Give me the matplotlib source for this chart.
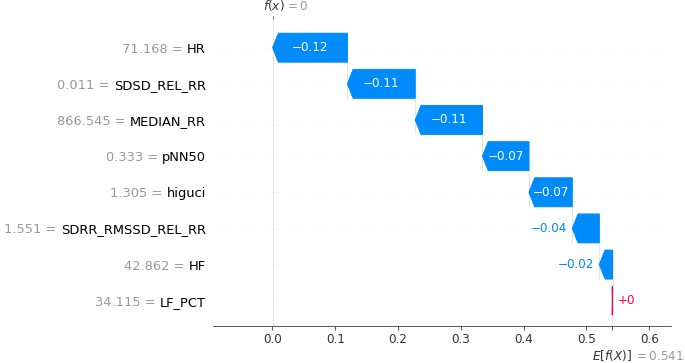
import numpy as np
import matplotlib
matplotlib.use("Agg")
import matplotlib.pyplot as plt
from matplotlib import transforms

# waterfall data, top row first
features = ["HR", "SDSD_REL_RR", "MEDIAN_RR", "pNN50", "higuci",
            "SDRR_RMSSD_REL_RR", "HF", "LF_PCT"]
feature_values = ["71.168", "0.011", "866.545", "0.333", "1.305",
                  "1.551", "42.862", "34.115"]
shap_values = [-0.119, -0.108, -0.107, -0.074, -0.069, -0.043, -0.021, 0.0004]
base_value = 0.541
xtick_vals = [0.0, 0.1, 0.2, 0.3, 0.4, 0.5, 0.6]

blue = "#008bfb"
red = "#ff0051"


def fmt(v, f):
    s = f % v
    if "." in s:
        s = s.rstrip("0").rstrip(".")
    return s.replace("-", "\u2212")


n = len(features)
rows = np.arange(n)[::-1]
fx = base_value + sum(shap_values)

fig = plt.figure(figsize=(685 / 72, 363 / 72), dpi=72)
ax = fig.add_axes([0.3114, 0.1019, 0.6677, 0.8444])
ax.set_xlim(-0.094, 0.634)
ax.set_ylim(-0.7, n - 1 + 0.78)

# head length of 0.08 inch in data units
ax_w_in = ax.get_position().width * fig.get_figwidth()
hl = 0.08 * (ax.get_xlim()[1] - ax.get_xlim()[0]) / ax_w_in

# row guide lines
for y in rows:
    ax.axhline(y, color="#cccccc", lw=0.5, dashes=(1, 5), zorder=-1)

# bars, from the base value up to f(x)
fig.canvas.draw()
renderer = fig.canvas.get_renderer()
start = base_value
prev_y = None
for i in range(n - 1, -1, -1):
    v = shap_values[i]
    y = rows[i]
    c = red if v > 0 else blue
    ax.arrow(start, y, v, 0, width=0.8, head_width=0.8,
             head_length=min(hl, abs(v)), length_includes_head=True,
             color=c, zorder=2)
    if prev_y is None:
        ax.plot([start, start], [ax.get_ylim()[0], y + 0.4], color="#bbbbbb",
                ls="--", lw=0.5, zorder=-1)
    else:
        ax.plot([start, start], [prev_y - 0.4, y + 0.4], color="#bbbbbb",
                ls="--", lw=0.5, zorder=-1)

    label = fmt(v, "%+0.02f")
    txt = ax.text(start + v / 2, y, label, ha="center", va="center",
                  color="white", fontsize=12, zorder=3)
    tw = txt.get_window_extent(renderer).width
    bw = abs(ax.transData.transform((start + v, 0))[0] - ax.transData.transform((start, 0))[0])
    if tw + 2 > bw:
        txt.remove()
        if v < 0:
            ax.annotate(label, xy=(start + v, y), xytext=(-5, 0),
                        textcoords="offset points", ha="right", va="center",
                        color=blue, fontsize=12)
        else:
            ax.annotate(label, xy=(start + v, y), xytext=(5, 0),
                        textcoords="offset points", ha="left", va="center",
                        color=red, fontsize=12)
    start += v
    prev_y = y

ax.axvline(fx, color="#bbbbbb", ls="--", lw=0.5, zorder=-1)

# feature labels: black name, gray "value =" to its left
pad = 7.5
ytrans = transforms.offset_copy(ax.get_yaxis_transform(), fig=fig, x=-pad, y=0, units="dots")
for name, val, y in zip(features, feature_values, rows):
    t = ax.text(0, y, name, transform=ytrans, ha="right",
                va="center_baseline", fontsize=13, color="black")
    nw = t.get_window_extent(renderer).width
    vtrans = transforms.offset_copy(ax.get_yaxis_transform(), fig=fig,
                                    x=-(pad + nw + 4.1), y=0, units="dots")
    ax.text(0, y, f"{val} =", transform=vtrans, ha="right",
            va="center_baseline", fontsize=13, color="#999999")

# axis styling
for s in ["top", "left", "right"]:
    ax.spines[s].set_visible(False)
ax.spines["bottom"].set_color("#333333")
ax.set_yticks([])
ax.set_xticks(xtick_vals)
ax.set_xticklabels([f"{t:.1f}" for t in xtick_vals])
ax.set_xticks([base_value], minor=True)
ax.tick_params(axis="x", which="both", length=3.5, width=0.8,
               color="#333333", labelcolor="#333333", labelsize=12)

# f(x) tick on top
ax_top = ax.twiny()
ax_top.set_xlim(ax.get_xlim())
ax_top.set_xticks([fx])
ax_top.set_xticklabels([""])
ax_top.tick_params(axis="x", length=3.5, width=0.8, color="#333333")
for s in ["top", "bottom", "left", "right"]:
    ax_top.spines[s].set_visible(False)

ax.annotate("$f(x)$", xy=(fx, 1), xycoords=("data", "axes fraction"),
            xytext=(-10, 9), textcoords="offset points", ha="left",
            va="baseline", fontsize=12, color="#333333")
ax.annotate("$ = " + fmt(fx, "%0.03f") + "$", xy=(fx, 1),
            xycoords=("data", "axes fraction"), xytext=(12, 9),
            textcoords="offset points", ha="left", va="baseline",
            fontsize=12, color="#999999")
ax.annotate("$E[f(X)]$", xy=(base_value, 0), xycoords=("data", "axes fraction"),
            xytext=(-20, -34), textcoords="offset points", ha="left",
            va="baseline", fontsize=12, color="#333333")
ax.annotate("$ = " + fmt(base_value, "%0.03f") + "$", xy=(base_value, 0),
            xycoords=("data", "axes fraction"), xytext=(22, -34),
            textcoords="offset points", ha="left", va="baseline",
            fontsize=12, color="#999999")

fig.savefig("out.png", dpi=72)
